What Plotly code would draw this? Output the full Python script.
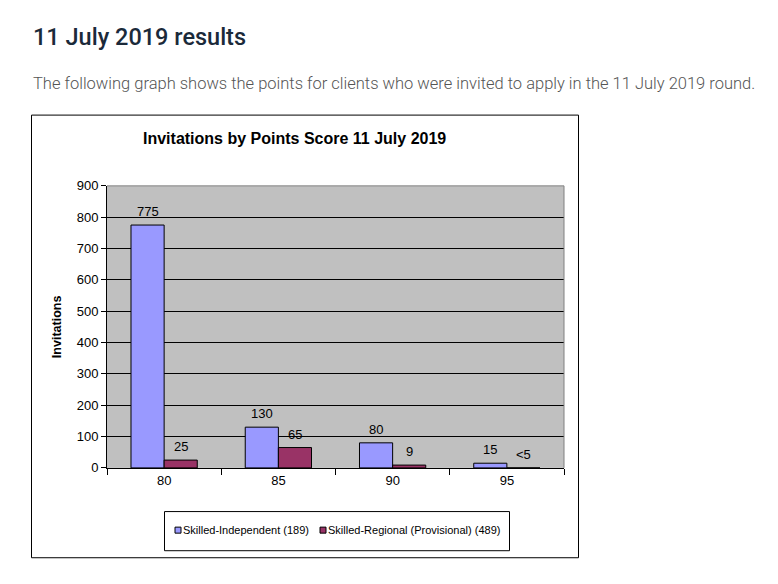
import plotly.graph_objects as go

# browser body margin is 8px; keep the whole page inside the 778x584 window
OFF = 8
W, H = 778 - 2 * OFF, 584 - 2 * OFF
VS = 0.97  # vertical calibration of the rendered page

categories = ["80", "85", "90", "95"]
independent_values = [775, 130, 80, 15]
regional_values = [25, 65, 9, 0]
independent_labels = ["775", "130", "80", "15"]
regional_labels = ["25", "65", "9", "<5"]
series_names = ["Skilled-Independent (189)", "Skilled-Regional (Provisional) (489)"]
series_colors = ["#9999FF", "#993366"]
y_ticks = [0, 100, 200, 300, 400, 500, 600, 700, 800, 900]

heading = "11 July 2019 results"
paragraph = "The following graph shows the points for clients who were invited to apply in the 11 July 2019 round."
chart_title = "Invitations by Points Score 11 July 2019"
y_title = "Invitations"

ARIAL = "Liberation Sans, Arial, sans-serif"

def px(x):
    return (x - OFF) / W

def py(y):
    return 1 - ((y - OFF) / VS - OFF) / H

# plot area in window pixels
PL, PR, PT, PB = 107, 564, 186, 467
BARGAP = 0.42
bar_px = (PR - PL) / len(categories) * (1 - BARGAP) / 2

fig = go.Figure()
for vals, name, color in [
    (independent_values, series_names[0], series_colors[0]),
    (regional_values, series_names[1], series_colors[1]),
]:
    fig.add_trace(go.Bar(
        x=categories, y=vals, name=name,
        marker=dict(color=color, line=dict(color="black", width=1)),
        showlegend=False,
    ))

shapes = [
    # chart frame
    dict(type="rect", xref="paper", yref="paper",
         x0=px(31.5), x1=px(578.5), y0=py(556.5), y1=py(115.5),
         line=dict(color="black", width=1), fillcolor="rgba(0,0,0,0)", layer="below"),
    # legend box
    dict(type="rect", xref="paper", yref="paper",
         x0=px(164.5), x1=px(509.5), y0=py(549.5), y1=py(510.5),
         line=dict(color="black", width=1), fillcolor="white", layer="below"),
    # plot area border top and right (gray)
    dict(type="line", xref="paper", yref="paper",
         x0=px(PL), x1=px(PR), y0=py(PT), y1=py(PT),
         line=dict(color="#808080", width=1), layer="above"),
    dict(type="line", xref="paper", yref="paper",
         x0=px(PR), x1=px(PR), y0=py(PT), y1=py(PB),
         line=dict(color="#808080", width=1), layer="above"),
]

annotations = [
    dict(text=heading, xref="paper", yref="paper", x=px(31), y=py(38),
         xanchor="left", yanchor="middle", showarrow=False,
         font=dict(family="Roboto", size=23.5, color="#1b2a3a", weight=500)),
    dict(text=paragraph, xref="paper", yref="paper", x=px(31), y=py(84),
         xanchor="left", yanchor="middle", showarrow=False,
         font=dict(family="Roboto", size=16.5, color="#555555", weight=300)),
    dict(text="<b>" + chart_title + "</b>", xref="paper", yref="paper", x=px(294), y=py(139),
         xanchor="center", yanchor="middle", showarrow=False,
         font=dict(family=ARIAL, size=16, color="black")),
]

# value labels above the bars (category index on the x axis, shifted to each bar of the group)
for vals, labels, shift in [
    (independent_values, independent_labels, -bar_px / 2),
    (regional_values, regional_labels, bar_px / 2),
]:
    for i, (v, lab) in enumerate(zip(vals, labels)):
        annotations.append(dict(text=lab, x=i, y=v, xref="x", yref="y",
                                xanchor="center", yanchor="bottom", showarrow=False,
                                xshift=shift, yshift=4,
                                font=dict(family=ARIAL, size=13, color="black")))

# legend entries (swatch + label) inside the legend box
legend_x = [175, 320]
for lx, name, color in zip(legend_x, series_names, series_colors):
    shapes.append(dict(type="rect", xref="paper", yref="paper",
                       x0=px(lx), x1=px(lx + 6), y0=py(532), y1=py(526),
                       line=dict(color="black", width=1), fillcolor=color, layer="above"))
    annotations.append(dict(text=name, xref="paper", yref="paper", x=px(lx + 6), y=py(529),
                            xanchor="left", yanchor="middle", showarrow=False,
                            font=dict(family=ARIAL, size=11, color="black")))

fig.update_layout(
    width=W, height=H,
    margin=dict(l=0, r=0, t=0, b=0),
    paper_bgcolor="white",
    plot_bgcolor="#C0C0C0",
    barmode="group",
    bargap=BARGAP,
    bargroupgap=0,
    font=dict(family=ARIAL, size=12, color="black"),
    showlegend=False,
    xaxis=dict(
        domain=[px(PL), px(PR)],
        type="category",
        categoryorder="array", categoryarray=categories,
        range=[-0.5, len(categories) - 0.5],
        showline=True, linecolor="black", linewidth=1,
        ticks="outside", tickson="boundaries", ticklen=6, tickcolor="black",
        tickfont=dict(family=ARIAL, size=13, color="black"),
        showgrid=False,
    ),
    yaxis=dict(
        domain=[py(PB), py(PT)],
        range=[0, 900],
        tickvals=y_ticks,
        showline=True, linecolor="black", linewidth=1,
        ticks="outside", ticklen=5, tickcolor="black",
        tickfont=dict(family=ARIAL, size=13, color="black"),
        showgrid=True, gridcolor="black", gridwidth=1,
        zeroline=False,
        title=dict(text="<b>" + y_title + "</b>", font=dict(family=ARIAL, size=12.5, color="black"), standoff=12),
    ),
    shapes=shapes,
    annotations=annotations,
)

fig.write_html("out.html")
